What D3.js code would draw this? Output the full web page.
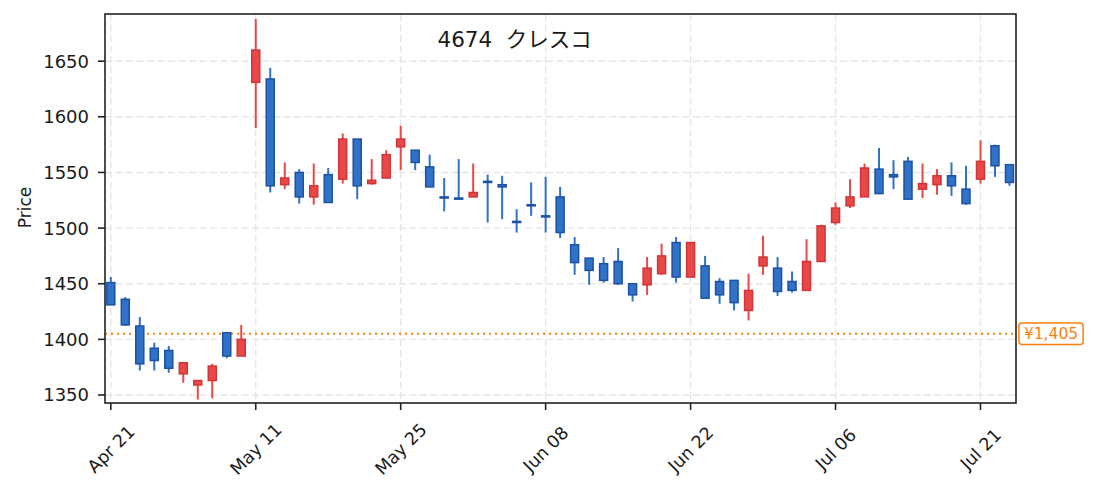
<!DOCTYPE html>
<html>
<head>
<meta charset="utf-8">
<script src="https://cdn.jsdelivr.net/npm/d3@7"></script>
<style>
  body { margin: 0; background: #fff; }
  svg text { font-family: "DejaVu Sans", "Noto Sans CJK JP", sans-serif; fill: #1a1a1a; white-space: pre; }
</style>
</head>
<body>
<div id="chart"></div>
<script>
// 4674 daily candles, Apr 21 - Jul 23
var dates = ["2026-04-21","2026-04-22","2026-04-23","2026-04-24","2026-04-27","2026-04-28","2026-04-30","2026-05-01","2026-05-07","2026-05-08",
  "2026-05-11","2026-05-12","2026-05-13","2026-05-14","2026-05-15","2026-05-18","2026-05-19","2026-05-20","2026-05-21","2026-05-22",
  "2026-05-25","2026-05-26","2026-05-27","2026-05-28","2026-05-29","2026-06-01","2026-06-02","2026-06-03","2026-06-04","2026-06-05",
  "2026-06-08","2026-06-09","2026-06-10","2026-06-11","2026-06-12","2026-06-15","2026-06-16","2026-06-17","2026-06-18","2026-06-19",
  "2026-06-22","2026-06-23","2026-06-24","2026-06-25","2026-06-26","2026-06-29","2026-06-30","2026-07-01","2026-07-02","2026-07-03",
  "2026-07-06","2026-07-07","2026-07-08","2026-07-09","2026-07-10","2026-07-13","2026-07-14","2026-07-15","2026-07-16","2026-07-17",
  "2026-07-21","2026-07-22","2026-07-23"];
var opens  = [1451,1436,1412,1392,1390,1369,1359,1363,1406,1385, 1631,1634,1539,1550,1528,1548,1544,1580,1540,1545,
  1573,1570,1555,1528,1527,1528,1542,1539,1506,1521, 1511,1528,1485,1473,1468,1470,1450,1449,1459,1487,
  1456,1466,1452,1453,1426,1466,1464,1452,1444,1470, 1505,1520,1528,1553,1548,1560,1535,1539,1547,1535, 1544,1574,1557];
var highs  = [1456,1438,1420,1397,1394,1379,1363,1378,1406,1413, 1688,1644,1559,1553,1558,1554,1585,1580,1562,1570,
  1592,1570,1566,1545,1562,1558,1548,1547,1517,1541, 1546,1537,1492,1473,1474,1482,1450,1474,1486,1492,
  1487,1475,1455,1453,1459,1493,1474,1461,1490,1503, 1523,1544,1558,1572,1561,1564,1558,1553,1559,1556, 1579,1575,1557];
var lows   = [1431,1412,1372,1372,1370,1361,1346,1347,1383,1385, 1590,1532,1535,1522,1521,1523,1540,1526,1539,1545,
  1552,1552,1537,1515,1526,1528,1505,1508,1496,1511, 1496,1491,1458,1449,1451,1449,1434,1440,1458,1451,
  1456,1437,1432,1426,1417,1458,1439,1442,1444,1470, 1503,1518,1528,1531,1535,1526,1527,1530,1529,1521, 1540,1546,1538];
var closes = [1431,1413,1378,1381,1374,1379,1363,1376,1385,1400, 1660,1538,1545,1528,1538,1523,1580,1538,1543,1566,
  1580,1559,1537,1527,1526,1532,1541,1537,1505,1520, 1510,1496,1469,1462,1453,1450,1440,1464,1475,1456,
  1487,1437,1440,1433,1444,1474,1443,1444,1470,1502, 1518,1528,1554,1531,1546,1526,1540,1547,1538,1522, 1560,1556,1541];
var yTicks = [1350,1400,1450,1500,1550,1600,1650];
var xTickIdx = [0,10,20,30,40,50,60];
var refPrice = 1405;
var title = "4674  クレスコ";

var W = 1095, H = 492;
var margin = {left: 105, top: 14, right: 79, bottom: 89};
var width = W - margin.left - margin.right;
var height = H - margin.top - margin.bottom;

var upFill = "#e84848", upEdge = "#d13535";
var dnFill = "#2f72c8", dnEdge = "#1c51a3";
var orange = "#ff7f0e";

var parse = d3.timeParse("%Y-%m-%d");
var fmt = d3.timeFormat("%b %d");

var svg = d3.select("#chart").append("svg")
  .attr("width", W).attr("height", H);
svg.append("rect").attr("width", W).attr("height", H).attr("fill", "#fff");

var g = svg.append("g").attr("transform", "translate(" + margin.left + "," + margin.top + ")");

var x = d3.scaleLinear().domain([-0.4, 62.45]).range([0, width]);
var y = d3.scaleLinear().domain([1342.8, 1692.4]).range([height, 0]);

// grid
g.append("g").selectAll("line").data(yTicks).join("line")
  .attr("x1", 0).attr("x2", width)
  .attr("y1", function(d){ return y(d); }).attr("y2", function(d){ return y(d); })
  .attr("stroke", "#e6e6e6").attr("stroke-width", 1.4).attr("stroke-dasharray", "7,3.5");
g.append("g").selectAll("line").data(xTickIdx).join("line")
  .attr("y1", 0).attr("y2", height)
  .attr("x1", function(d){ return x(d); }).attr("x2", function(d){ return x(d); })
  .attr("stroke", "#e6e6e6").attr("stroke-width", 1.4).attr("stroke-dasharray", "7,3.5");

// reference line
g.append("line")
  .attr("x1", 0).attr("x2", width)
  .attr("y1", y(refPrice)).attr("y2", y(refPrice))
  .attr("stroke", orange).attr("stroke-width", 2).attr("stroke-dasharray", "2,4");

// candles
var bw = 8;
var candles = g.append("g").selectAll("g").data(dates).join("g");
candles.each(function(d, i){
  var up = closes[i] >= opens[i];
  var c = d3.select(this);
  var cx = x(i);
  c.append("line")
    .attr("x1", cx).attr("x2", cx)
    .attr("y1", y(highs[i])).attr("y2", y(lows[i]))
    .attr("stroke", up ? upFill : dnFill).attr("stroke-width", 2);
  var top = y(Math.max(opens[i], closes[i]));
  var bot = y(Math.min(opens[i], closes[i]));
  c.append("rect")
    .attr("x", cx - bw/2).attr("width", bw)
    .attr("y", top).attr("height", Math.max(bot - top, 0.8))
    .attr("fill", up ? upFill : dnFill)
    .attr("stroke", up ? upEdge : dnEdge).attr("stroke-width", 1.5);
});

// title
g.append("text")
  .attr("x", width * 0.4497).attr("y", 33.3)
  .attr("text-anchor", "middle")
  .style("font-size", "21.5px")
  .text(title);

// spines
g.append("rect").attr("width", width).attr("height", height)
  .attr("fill", "none").attr("stroke", "#222").attr("stroke-width", 1.6);

// y axis
var ya = g.append("g");
ya.selectAll("line").data(yTicks).join("line")
  .attr("x1", -7).attr("x2", 0)
  .attr("y1", function(d){ return y(d); }).attr("y2", function(d){ return y(d); })
  .attr("stroke", "#222").attr("stroke-width", 1.6);
ya.selectAll("text").data(yTicks).join("text")
  .attr("x", -16).attr("y", function(d){ return y(d); })
  .attr("dy", "0.36em").attr("text-anchor", "end")
  .style("font-size", "18px")
  .text(function(d){ return d; });

// x axis
var xa = g.append("g").attr("transform", "translate(0," + height + ")");
xa.selectAll("line").data(xTickIdx).join("line")
  .attr("x1", function(d){ return x(d); }).attr("x2", function(d){ return x(d); })
  .attr("y1", 0).attr("y2", 7)
  .attr("stroke", "#222").attr("stroke-width", 1.6);
xa.selectAll("text").data(xTickIdx).join("text")
  .attr("transform", function(d){ return "translate(" + x(d) + ",46) rotate(-45)"; })
  .attr("text-anchor", "middle").attr("dy", "0.36em")
  .style("font-size", "17.5px")
  .text(function(d){ return fmt(parse(dates[d])); });

// y label
g.append("text")
  .attr("transform", "translate(" + (25 - margin.left) + "," + (207.5 - margin.top) + ") rotate(-90)")
  .attr("text-anchor", "middle").attr("dy", "0.36em")
  .style("font-size", "17px")
  .text("Price");

// ref price label
var lab = g.append("g").attr("transform", "translate(" + (width + 3) + "," + y(refPrice) + ")");
var lt = lab.append("text")
  .attr("x", 32).attr("dy", "0.36em").attr("text-anchor", "middle")
  .style("font-size", "15.5px").style("fill", orange)
  .text("¥" + d3.format(",")(refPrice));
var bb = lt.node().getBBox();
lab.insert("rect", "text")
  .attr("x", bb.x - 5).attr("y", -10.7).attr("width", bb.width + 10).attr("height", 21.4)
  .attr("rx", 3).attr("fill", "#fff").attr("stroke", orange).attr("stroke-width", 1.5);
</script>
</body>
</html>
